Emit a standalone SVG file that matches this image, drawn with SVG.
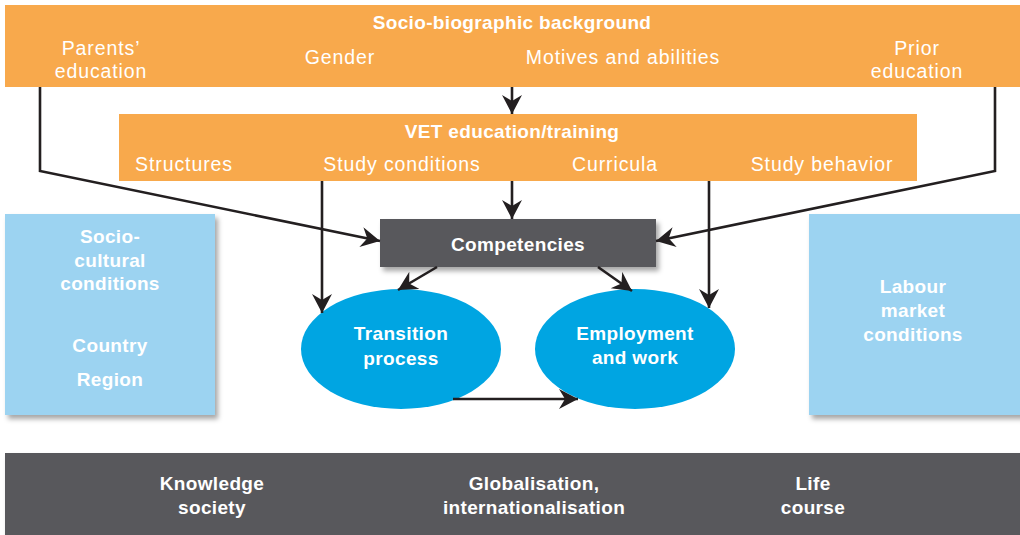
<svg xmlns="http://www.w3.org/2000/svg" width="1020" height="535" viewBox="0 0 1020 535">
<style>
.t{font-family:"Liberation Sans",Arial,sans-serif;fill:#fff;text-anchor:middle}
.b{font-weight:bold;font-size:19px;letter-spacing:0.35px}
.r{font-size:19.5px;letter-spacing:0.9px}
.orange{fill:#f8a94c}
.blue{fill:#9cd3f1}
.dark{fill:#58595b}
.ell{fill:#00a5e2}
.c{fill:none;stroke:#231f20;stroke-width:2.6;marker-end:url(#ah)}
</style>
<defs>
<marker id="ah" markerUnits="userSpaceOnUse" markerWidth="22" markerHeight="22" refX="19" refY="10" orient="auto" viewBox="0 0 22 22">
<path d="M0,0 L19,10 L0,20 L6,10 z" fill="#231f20"/>
</marker>
<filter id="sh" x="-10%" y="-10%" width="130%" height="130%">
<feDropShadow dx="3" dy="4" stdDeviation="2.5" flood-color="#000" flood-opacity="0.35"/>
</filter>
</defs>
<rect width="1020" height="535" fill="#fff"/>
<g id="socio-biographic">
<rect class="orange" x="5" y="5" width="1015" height="82"/>
<text class="t b" x="512" y="29">Socio-biographic background</text>
<text class="t r" x="101" y="55">Parents’</text>
<text class="t r" x="101" y="78">education</text>
<text class="t r" x="340" y="64">Gender</text>
<text class="t r" x="623" y="64">Motives and abilities</text>
<text class="t r" x="917" y="55">Prior</text>
<text class="t r" x="917" y="78">education</text>
</g>
<g id="vet">
<rect class="orange" x="119" y="114" width="798" height="67"/>
<text class="t b" x="512" y="138">VET education/training</text>
<text class="t r" x="184" y="171">Structures</text>
<text class="t r" x="402" y="171">Study conditions</text>
<text class="t r" x="615" y="171">Curricula</text>
<text class="t r" x="822" y="171">Study behavior</text>
</g>
<g id="sociocultural">
<rect class="blue" x="5" y="214" width="210" height="201" filter="url(#sh)"/>
<text class="t b" x="110" y="243">Socio-</text>
<text class="t b" x="110" y="267">cultural</text>
<text class="t b" x="110" y="290">conditions</text>
<text class="t b" x="110" y="352">Country</text>
<text class="t b" x="110" y="386">Region</text>
</g>
<g id="labour">
<rect class="blue" x="809" y="214" width="214" height="201" filter="url(#sh)"/>
<text class="t b" x="913" y="293">Labour</text>
<text class="t b" x="913" y="317">market</text>
<text class="t b" x="913" y="341">conditions</text>
</g>
<g id="competencies">
<rect class="dark" x="380" y="219" width="276" height="48" filter="url(#sh)"/>
<text class="t b" x="518" y="251">Competencies</text>
</g>
<g id="transition">
<ellipse class="ell" cx="401" cy="349" rx="100" ry="60"/>
<text class="t b" x="401" y="340">Transition</text>
<text class="t b" x="401" y="365">process</text>
</g>
<g id="employment">
<ellipse class="ell" cx="635" cy="349" rx="100" ry="60"/>
<text class="t b" x="635" y="340">Employment</text>
<text class="t b" x="635" y="364">and work</text>
</g>
<g id="context">
<rect class="dark" x="5" y="453" width="1015" height="82" filter="url(#sh)"/>
<text class="t b" x="212" y="490">Knowledge</text>
<text class="t b" x="212" y="514">society</text>
<text class="t b" x="534" y="490">Globalisation,</text>
<text class="t b" x="534" y="514">internationalisation</text>
<text class="t b" x="813" y="490">Life</text>
<text class="t b" x="813" y="514">course</text>
</g>
<g id="connectors">
<path class="c" d="M512,87 L512,114"/>
<path class="c" d="M512,181 L512,219"/>
<path class="c" d="M40,87 L40,171 L380,241"/>
<path class="c" d="M995,87 L995,171 L656,241"/>
<path class="c" d="M322,181 L322,313"/>
<path class="c" d="M709,181 L709,308"/>
<path class="c" d="M437,267 L398,290"/>
<path class="c" d="M598,267 L632,291"/>
<path class="c" d="M453,399 L578,399"/>
</g>
</svg>
